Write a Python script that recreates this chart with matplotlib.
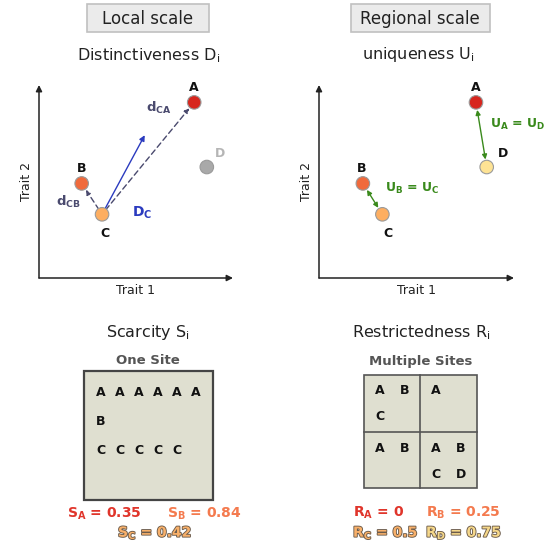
import matplotlib
matplotlib.use('Agg')
import matplotlib.pyplot as plt
import matplotlib.patheffects as pe
from matplotlib.patches import Rectangle

plt.rcParams['font.family'] = ['DejaVu Sans']
plt.rcParams['mathtext.default'] = 'regular'

# species positions in trait space (arbitrary units 0..10)
species = ['A', 'B', 'C', 'D']
trait1_local = [8.0, 2.2, 3.25, 8.65]
trait2_local = [9.1, 4.9, 3.3, 5.75]
trait1_region = [8.05, 2.25, 3.25, 8.6]
trait2_region = [9.1, 4.9, 3.3, 5.75]
col_local = ['#d7261e', '#f06a3c', '#fdae61', '#a9a9a9']
col_region = ['#d7261e', '#f06a3c', '#fdae61', '#fee394']
dc_vector_end = [5.45, 7.4]   # end of the D_C arrow

# sites
one_site = ['AAAAAA', 'B', 'CCCCC']
multi_sites = [['AB', 'C'], ['A'], ['AB'], ['AB', 'CD']]   # TL, TR, BL, BR

# indices
scarcity_lab = ['S_A', 'S_B', 'S_C']
scarcity_val = [0.35, 0.84, 0.42]
restr_lab = ['R_A', 'R_B', 'R_C', 'R_D']
restr_val = [0, 0.25, 0.5, 0.75]

W, H = 552, 542
fig = plt.figure(figsize=(W / 100, H / 100), dpi=100)
bg = fig.add_axes([0, 0, 1, 1])
bg.set_xlim(0, W)
bg.set_ylim(H, 0)
bg.axis('off')

# headers
for cx, x0, x1, txt in [(148, 87, 209, 'Local scale'), (420, 351, 490, 'Regional scale')]:
    bg.add_patch(Rectangle((x0, 4), x1 - x0, 28, fc='#ebebeb', ec='#c0c0c0', lw=1.2))
    bg.text(cx, 19, txt, ha='center', va='center', fontsize=12, color='#222222')

bg.text(149, 56, 'Distinctiveness D$_{i}$', ha='center', va='center', fontsize=11.5, color='#222222')
bg.text(418, 54, 'uniqueness U$_{i}$', ha='center', va='center', fontsize=11.5, color='#222222')
bg.text(148, 333, 'Scarcity S$_{i}$', ha='center', va='center', fontsize=11.5, color='#222222')
bg.text(421, 333, 'Restrictedness R$_{i}$', ha='center', va='center', fontsize=11.5, color='#222222')


def trait_axes(rect):
    ax = fig.add_axes(rect)
    ax.set_xlim(0, 10)
    ax.set_ylim(0, 10)
    for s in ax.spines.values():
        s.set_visible(False)
    ax.set_xticks([])
    ax.set_yticks([])
    ax.patch.set_alpha(0)
    arr = dict(arrowstyle='-|>', color='#222222', lw=1.1, mutation_scale=9, shrinkA=0, shrinkB=0)
    ax.annotate('', xy=(0, 1), xytext=(0, 0), xycoords='axes fraction', arrowprops=arr)
    ax.annotate('', xy=(1, 0), xytext=(0, 0), xycoords='axes fraction', arrowprops=arr)
    ax.set_xlabel('Trait 1', fontsize=9, labelpad=4, color='#222222')
    ax.set_ylabel('Trait 2', fontsize=9, labelpad=4, color='#222222')
    return ax


ax1 = trait_axes([39 / W, (H - 278) / H, 194 / W, 193 / H])
ax2 = trait_axes([319 / W, (H - 278) / H, 195 / W, 193 / H])

# local: distances from C
dash = '#4a4a6e'
for j in [0, 1]:
    ax1.annotate('', xy=(trait1_local[j], trait2_local[j]), xytext=(trait1_local[2], trait2_local[2]),
                 arrowprops=dict(arrowstyle='-|>', color=dash, lw=1, ls=(0, (4, 2.5)),
                                 mutation_scale=7, shrinkA=4, shrinkB=5.5))
ax1.annotate('', xy=tuple(dc_vector_end), xytext=(trait1_local[2], trait2_local[2]),
             arrowprops=dict(arrowstyle='-|>', color='#2b3bbf', lw=1, mutation_scale=8,
                             shrinkA=2, shrinkB=0))
ax1.scatter(trait1_local, trait2_local, s=95, c=col_local, edgecolors='#9a9a9a', linewidths=0.8, zorder=3)
offs = [(0, 15), (0, 15), (3, -19), (13, 14)]
for i, n in enumerate(species):
    ax1.annotate(n, (trait1_local[i], trait2_local[i]), xytext=offs[i], textcoords='offset pixels',
                 ha='center', va='center', fontsize=9, fontweight='bold',
                 color='#b5b5b5' if n == 'D' else '#111111')
ax1.text(6.15, 8.8, r'$\mathbf{d_{CA}}$', color=dash, fontsize=9.5, ha='center', va='center')
ax1.text(1.5, 3.95, r'$\mathbf{d_{CB}}$', color=dash, fontsize=9.5, ha='center', va='center')
ax1.text(5.3, 3.4, r'$\mathbf{D_{C}}$', color='#2b3bbf', fontsize=10, ha='center', va='center')

# regional: nearest neighbour
green = '#3a8a1c'
for a, b in [(0, 3), (1, 2)]:
    ax2.annotate('', xy=(trait1_region[a], trait2_region[a]), xytext=(trait1_region[b], trait2_region[b]),
                 arrowprops=dict(arrowstyle='<|-|>', color=green, lw=1, mutation_scale=7,
                                 shrinkA=5.5, shrinkB=5.5))
ax2.scatter(trait1_region, trait2_region, s=95, c=col_region, edgecolors='#9a9a9a', linewidths=0.8, zorder=3)
offs = [(0, 15), (-1, 15), (6, -19), (16, 14)]
for i, n in enumerate(species):
    ax2.annotate(n, (trait1_region[i], trait2_region[i]), xytext=offs[i], textcoords='offset pixels',
                 ha='center', va='center', fontsize=9, fontweight='bold', color='#111111')
ax2.text(8.75, 7.95, r'$\mathbf{U_A}$ = $\mathbf{U_D}$', color=green, fontsize=9, fontweight='bold',
         ha='left', va='center')
ax2.text(3.4, 4.65, r'$\mathbf{U_B}$ = $\mathbf{U_C}$', color=green, fontsize=9, fontweight='bold',
         ha='left', va='center')

# one site
box_fc = '#dfdfd0'
bg.text(148, 360, 'One Site', ha='center', va='center', fontsize=9.5, fontweight='bold', color='#555555')
bg.add_patch(Rectangle((84, 371), 129, 129, fc=box_fc, ec='#444444', lw=1.6))
for r, row in enumerate(one_site):
    for k, ch in enumerate(row):
        bg.text(101 + 19 * k, 392 + 29.5 * r, ch, ha='center', va='center', fontsize=9,
                fontweight='bold', color='#111111')

# multiple sites
bg.text(421, 362, 'Multiple Sites', ha='center', va='center', fontsize=9.5, fontweight='bold', color='#555555')
gx, gy, gs = 364, 375, 113
bg.add_patch(Rectangle((gx, gy), gs, gs, fc=box_fc, ec='#555555', lw=1.2))
bg.plot([420, 420], [gy, gy + gs], color='#555555', lw=1.2)
bg.plot([gx, gx + gs], [432, 432], color='#555555', lw=1.2)
cells = [(364, 375), (420, 375), (364, 432), (420, 432)]
for (cx, cy), rows in zip(cells, multi_sites):
    for r, row in enumerate(rows):
        for k, ch in enumerate(row):
            bg.text(cx + 16 + 25 * k, cy + 16 + 26 * r, ch, ha='center', va='center', fontsize=9,
                    fontweight='bold', color='#111111')

# index values
fills = ['#e0352b', '#f47a4e', '#f8b06a', '#f6d88a']
outline = [pe.withStroke(linewidth=1.3, foreground='#6b5b4b')]
pos_s = [(67, 514), (167, 514), (118, 533)]
for i, (lab, v) in enumerate(zip(scarcity_lab, scarcity_val)):
    t = bg.text(pos_s[i][0], pos_s[i][1], r'$\mathbf{%s}$ = %.2f' % (lab, v), ha='left', va='center',
                fontsize=10, fontweight='bold', color=fills[i])
    if i >= 2:
        t.set_path_effects(outline)
pos_r = [(353, 513), (426, 513), (353, 533), (426, 533)]
for i, (lab, v) in enumerate(zip(restr_lab, restr_val)):
    t = bg.text(pos_r[i][0], pos_r[i][1], r'$\mathbf{%s}$ = %g' % (lab, v), ha='left', va='center',
                fontsize=10, fontweight='bold', color=fills[i])
    if i >= 2:
        t.set_path_effects(outline)

fig.savefig('out.png', dpi=100)
